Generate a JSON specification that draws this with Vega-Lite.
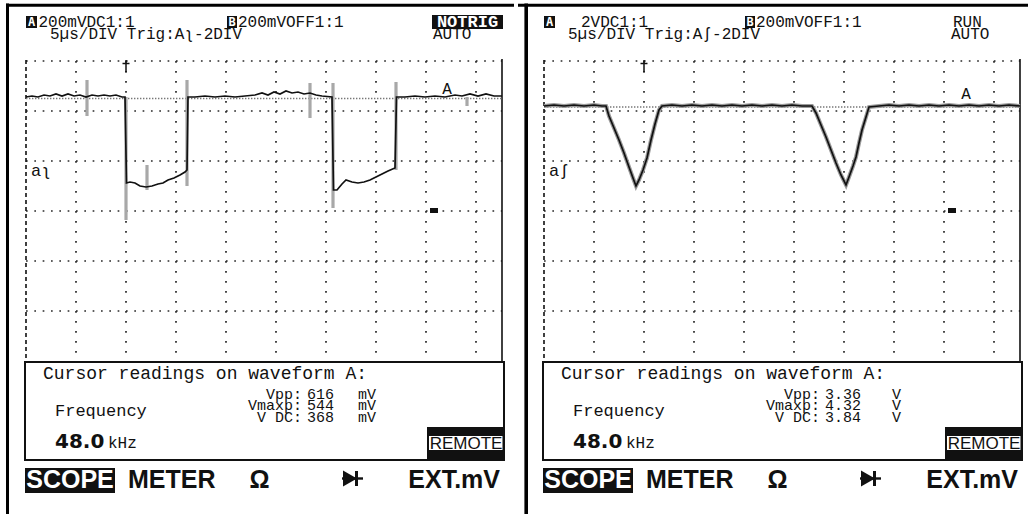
{
  "$schema": "https://vega.github.io/schema/vega-lite/v6.json",
  "background": "white",
  "padding": 0,
  "spacing": 0,
  "config": {
    "axis": {"disable": true},
    "view": {"stroke": null},
    "text": {"font": "Liberation Mono", "fontSize": 16, "fill": "#111"}
  },
  "datasets": {
    "tickTimes": [{"t_us": -5}, {"t_us": 0}, {"t_us": 5}, {"t_us": 10}, {"t_us": 15}, {"t_us": 20}, {"t_us": 25}, {"t_us": 30}, {"t_us": 35}],
    "tickLevels": [{"div": 2}, {"div": 1}, {"div": 0}, {"div": -1}, {"div": -2}, {"div": -3}],
    "traceA_200mV": [
      {"t_us": -10.0, "div": 1.28}, {"t_us": -9.4, "div": 1.30}, {"t_us": -8.8, "div": 1.28}, {"t_us": -8.2, "div": 1.32},
      {"t_us": -7.6, "div": 1.30}, {"t_us": -7.0, "div": 1.34}, {"t_us": -6.4, "div": 1.30}, {"t_us": -5.8, "div": 1.34},
      {"t_us": -5.2, "div": 1.30}, {"t_us": -4.6, "div": 1.32}, {"t_us": -4.0, "div": 1.28}, {"t_us": -3.4, "div": 1.32},
      {"t_us": -2.8, "div": 1.30}, {"t_us": -2.2, "div": 1.32}, {"t_us": -1.6, "div": 1.30}, {"t_us": -1.0, "div": 1.32},
      {"t_us": -0.4, "div": 1.28}, {"t_us": -0.1, "div": 1.28}, {"t_us": 0.05, "div": -0.44}, {"t_us": 0.4, "div": -0.42},
      {"t_us": 0.9, "div": -0.44}, {"t_us": 1.4, "div": -0.50}, {"t_us": 2.0, "div": -0.52}, {"t_us": 2.6, "div": -0.50},
      {"t_us": 3.2, "div": -0.46}, {"t_us": 3.7, "div": -0.44}, {"t_us": 4.2, "div": -0.38}, {"t_us": 4.8, "div": -0.34},
      {"t_us": 5.4, "div": -0.28}, {"t_us": 5.9, "div": -0.22}, {"t_us": 6.1, "div": -0.18}, {"t_us": 6.2, "div": 1.28},
      {"t_us": 6.9, "div": 1.28}, {"t_us": 7.9, "div": 1.30}, {"t_us": 8.9, "div": 1.28}, {"t_us": 9.9, "div": 1.30},
      {"t_us": 10.9, "div": 1.28}, {"t_us": 11.9, "div": 1.30}, {"t_us": 12.9, "div": 1.32}, {"t_us": 13.6, "div": 1.36},
      {"t_us": 14.2, "div": 1.32}, {"t_us": 14.8, "div": 1.38}, {"t_us": 15.4, "div": 1.34}, {"t_us": 16.0, "div": 1.40},
      {"t_us": 16.6, "div": 1.36}, {"t_us": 17.2, "div": 1.38}, {"t_us": 17.8, "div": 1.34}, {"t_us": 18.4, "div": 1.36},
      {"t_us": 19.0, "div": 1.32}, {"t_us": 19.6, "div": 1.30}, {"t_us": 20.6, "div": 1.28}, {"t_us": 20.75, "div": -0.58},
      {"t_us": 21.1, "div": -0.58}, {"t_us": 21.6, "div": -0.46}, {"t_us": 22.0, "div": -0.38}, {"t_us": 22.6, "div": -0.42},
      {"t_us": 23.2, "div": -0.44}, {"t_us": 23.8, "div": -0.42}, {"t_us": 24.4, "div": -0.38}, {"t_us": 25.0, "div": -0.32},
      {"t_us": 25.6, "div": -0.26}, {"t_us": 26.2, "div": -0.20}, {"t_us": 26.9, "div": -0.14}, {"t_us": 27.05, "div": 1.28},
      {"t_us": 27.9, "div": 1.28}, {"t_us": 28.9, "div": 1.30}, {"t_us": 29.9, "div": 1.28}, {"t_us": 30.9, "div": 1.30},
      {"t_us": 31.9, "div": 1.28}, {"t_us": 32.9, "div": 1.32}, {"t_us": 33.6, "div": 1.30}, {"t_us": 34.4, "div": 1.34},
      {"t_us": 35.2, "div": 1.30}, {"t_us": 36.0, "div": 1.34}, {"t_us": 36.8, "div": 1.30}, {"t_us": 37.6, "div": 1.30}
    ],
    "peaks_200mV": [
      {"t_us": -3.9, "lo": 0.90, "hi": 1.62},
      {"t_us": 0.0, "lo": -1.18, "hi": 1.28},
      {"t_us": 2.1, "lo": -0.58, "hi": -0.08},
      {"t_us": 6.1, "lo": -0.50, "hi": 1.62},
      {"t_us": 18.4, "lo": 0.86, "hi": 1.56},
      {"t_us": 20.7, "lo": -0.94, "hi": 1.56},
      {"t_us": 27.0, "lo": -0.18, "hi": 1.58},
      {"t_us": 34.1, "lo": 1.10, "hi": 1.28}
    ],
    "traceA_2V": [
      {"t_us": -10.0, "div": 1.10}, {"t_us": -9.0, "div": 1.12}, {"t_us": -8.0, "div": 1.10}, {"t_us": -7.0, "div": 1.12},
      {"t_us": -6.0, "div": 1.10}, {"t_us": -5.0, "div": 1.12}, {"t_us": -4.2, "div": 1.10}, {"t_us": -3.8, "div": 1.10},
      {"t_us": -3.5, "div": 0.90}, {"t_us": -3.0, "div": 0.66}, {"t_us": -2.5, "div": 0.42}, {"t_us": -2.0, "div": 0.16},
      {"t_us": -1.5, "div": -0.12}, {"t_us": -1.1, "div": -0.34}, {"t_us": -0.8, "div": -0.50}, {"t_us": -0.5, "div": -0.38},
      {"t_us": -0.1, "div": -0.18}, {"t_us": 0.3, "div": 0.06}, {"t_us": 0.7, "div": 0.42}, {"t_us": 1.1, "div": 0.74},
      {"t_us": 1.5, "div": 1.02}, {"t_us": 1.8, "div": 1.10}, {"t_us": 2.8, "div": 1.12}, {"t_us": 3.8, "div": 1.10},
      {"t_us": 4.8, "div": 1.12}, {"t_us": 5.8, "div": 1.10}, {"t_us": 6.8, "div": 1.12}, {"t_us": 7.8, "div": 1.10},
      {"t_us": 8.8, "div": 1.12}, {"t_us": 9.8, "div": 1.10}, {"t_us": 10.8, "div": 1.12}, {"t_us": 11.8, "div": 1.10},
      {"t_us": 12.8, "div": 1.12}, {"t_us": 13.8, "div": 1.10}, {"t_us": 14.8, "div": 1.12}, {"t_us": 15.8, "div": 1.10},
      {"t_us": 16.8, "div": 1.10}, {"t_us": 17.2, "div": 0.96}, {"t_us": 17.7, "div": 0.72}, {"t_us": 18.2, "div": 0.48},
      {"t_us": 18.7, "div": 0.22}, {"t_us": 19.2, "div": -0.04}, {"t_us": 19.7, "div": -0.28}, {"t_us": 20.2, "div": -0.48},
      {"t_us": 20.5, "div": -0.32}, {"t_us": 20.9, "div": -0.10}, {"t_us": 21.2, "div": 0.08}, {"t_us": 21.5, "div": 0.36},
      {"t_us": 21.8, "div": 0.62}, {"t_us": 22.2, "div": 0.88}, {"t_us": 22.5, "div": 1.08}, {"t_us": 23.5, "div": 1.10},
      {"t_us": 24.5, "div": 1.12}, {"t_us": 25.5, "div": 1.10}, {"t_us": 26.5, "div": 1.12}, {"t_us": 27.5, "div": 1.10},
      {"t_us": 28.5, "div": 1.12}, {"t_us": 29.5, "div": 1.10}, {"t_us": 30.5, "div": 1.12}, {"t_us": 31.5, "div": 1.10},
      {"t_us": 32.5, "div": 1.12}, {"t_us": 33.5, "div": 1.10}, {"t_us": 34.5, "div": 1.12}, {"t_us": 35.5, "div": 1.10},
      {"t_us": 36.5, "div": 1.12}, {"t_us": 37.6, "div": 1.10}
    ]
  },
  "hconcat": [
    {
      "width": 514,
      "height": 514,
      "data": {"values": [{}]},
      "layer": [
        {"data": {"name": "tickTimes"}, "mark": {"type": "rule", "color": "#2a2a2a", "strokeWidth": 1.7, "strokeDash": [1.7, 8.3]},
         "encoding": {"x": {"field": "t_us", "type": "quantitative", "scale": {"domain": [-12.6, 38.8], "nice": false, "zero": false}},
                      "y": {"datum": 2, "type": "quantitative", "scale": {"domain": [-7.06, 3.22], "nice": false, "zero": false}},
                      "y2": {"datum": -4}}},
        {"data": {"name": "tickLevels"}, "mark": {"type": "rule", "color": "#2a2a2a", "strokeWidth": 1.7, "strokeDash": [1.7, 6.63]},
         "encoding": {"y": {"field": "div", "type": "quantitative"}, "x": {"datum": -10, "type": "quantitative"}, "x2": {"datum": 37.6}}},
        {"mark": {"type": "rule", "color": "#111", "strokeWidth": 1.6, "strokeDash": [4, 3]},
         "encoding": {"x": {"datum": -10, "type": "quantitative"}, "y": {"datum": 2.02, "type": "quantitative"}, "y2": {"datum": -4}}},
        {"mark": {"type": "rule", "color": "#111", "strokeWidth": 1.6},
         "encoding": {"x": {"datum": 37.6, "type": "quantitative"}, "y": {"datum": 2.04, "type": "quantitative"}, "y2": {"datum": -4}}},
        {"mark": {"type": "rule", "color": "#777", "strokeWidth": 1.4, "strokeDash": [1.4, 1.6]},
         "encoding": {"y": {"datum": 1.25, "type": "quantitative"}, "x": {"datum": -10, "type": "quantitative"}, "x2": {"datum": 37.6}}},
        {"data": {"name": "peaks_200mV"}, "mark": {"type": "rule", "color": "#a8a8a8", "strokeWidth": 3.2},
         "encoding": {"x": {"field": "t_us", "type": "quantitative"}, "y": {"field": "hi", "type": "quantitative"}, "y2": {"field": "lo"}}},
        {"data": {"name": "traceA_200mV"}, "mark": {"type": "line", "color": "#111", "strokeWidth": 1.7},
         "encoding": {"x": {"field": "t_us", "type": "quantitative"}, "y": {"field": "div", "type": "quantitative"}}},
        {"mark": {"type": "rule", "color": "#111", "strokeWidth": 1.5},
         "encoding": {"x": {"datum": 0, "type": "quantitative"}, "y": {"datum": 2.02, "type": "quantitative"}, "y2": {"datum": 1.78}}},
        {"mark": {"type": "rule", "color": "#111", "strokeWidth": 1.5},
         "encoding": {"y": {"datum": 1.95, "type": "quantitative"}, "x": {"datum": -0.35, "type": "quantitative"}, "x2": {"datum": 0.35}}},
        {"mark": {"type": "text", "text": "A", "align": "center", "baseline": "middle", "fontSize": 16},
         "encoding": {"x": {"datum": 32.1, "type": "quantitative"}, "y": {"datum": 1.44, "type": "quantitative"}}},
        {"mark": {"type": "text", "text": "aʅ", "align": "left", "baseline": "middle", "fontSize": 17},
         "encoding": {"x": {"datum": -9.5, "type": "quantitative"}, "y": {"datum": -0.2, "type": "quantitative"}}},
        {"mark": {"type": "rect", "color": "#111"},
         "encoding": {"x": {"datum": 30.4, "type": "quantitative"}, "x2": {"datum": 31.2}, "y": {"datum": -0.94, "type": "quantitative"}, "y2": {"datum": -1.04}}},
        {"mark": {"type": "rect", "color": "#111"},
         "encoding": {"x": {"datum": -10, "type": "quantitative"}, "x2": {"datum": -8.9}, "y": {"datum": 2.9, "type": "quantitative"}, "y2": {"datum": 2.66}}},
        {"mark": {"type": "text", "text": "A", "align": "center", "baseline": "middle", "fill": "white", "fontSize": 12, "fontWeight": "bold", "font": "DejaVu Sans Mono"},
         "encoding": {"x": {"datum": -9.45, "type": "quantitative"}, "y": {"datum": 2.78, "type": "quantitative"}}},
        {"mark": {"type": "text", "text": "200mVDC1:1", "align": "left", "baseline": "alphabetic"},
         "encoding": {"x": {"datum": -8.75, "type": "quantitative"}, "y": {"datum": 2.69, "type": "quantitative"}}},
        {"mark": {"type": "rect", "color": "#111"},
         "encoding": {"x": {"datum": 10.1, "type": "quantitative"}, "x2": {"datum": 11.1}, "y": {"datum": 2.9, "type": "quantitative"}, "y2": {"datum": 2.66}}},
        {"mark": {"type": "text", "text": "B", "align": "center", "baseline": "middle", "fill": "white", "fontSize": 12, "fontWeight": "bold", "font": "DejaVu Sans Mono"},
         "encoding": {"x": {"datum": 10.6, "type": "quantitative"}, "y": {"datum": 2.78, "type": "quantitative"}}},
        {"mark": {"type": "text", "text": "200mVOFF1:1", "align": "left", "baseline": "alphabetic"},
         "encoding": {"x": {"datum": 11.2, "type": "quantitative"}, "y": {"datum": 2.69, "type": "quantitative"}}},
        {"mark": {"type": "rect", "color": "#111"},
         "encoding": {"x": {"datum": 30.6, "type": "quantitative"}, "x2": {"datum": 37.7}, "y": {"datum": 2.92, "type": "quantitative"}, "y2": {"datum": 2.64}}},
        {"mark": {"type": "text", "text": "NOTRIG", "align": "center", "baseline": "alphabetic", "fill": "white", "fontWeight": "bold", "fontSize": 17},
         "encoding": {"x": {"datum": 34.15, "type": "quantitative"}, "y": {"datum": 2.69, "type": "quantitative"}}},
        {"mark": {"type": "text", "text": "5µs/DIV Trig:Aʅ-2DIV", "align": "left", "baseline": "alphabetic"},
         "encoding": {"x": {"datum": -7.6, "type": "quantitative"}, "y": {"datum": 2.45, "type": "quantitative"}}},
        {"mark": {"type": "text", "text": "AUTO", "align": "left", "baseline": "alphabetic"},
         "encoding": {"x": {"datum": 30.7, "type": "quantitative"}, "y": {"datum": 2.45, "type": "quantitative"}}},
        {"mark": {"type": "rule", "color": "#000", "strokeWidth": 3},
         "encoding": {"y": {"datum": 3.116, "type": "quantitative"}, "x": {"datum": -12.0, "type": "quantitative"}, "x2": {"datum": 38.8}}},
        {"mark": {"type": "rule", "color": "#000", "strokeWidth": 3},
         "encoding": {"x": {"datum": -11.85, "type": "quantitative"}, "y": {"datum": 3.15, "type": "quantitative"}, "y2": {"datum": -7.06}}},
        {"mark": {"type": "rect", "fill": "white", "stroke": "#111", "strokeWidth": 2},
         "encoding": {"x": {"datum": -10.1, "type": "quantitative"}, "x2": {"datum": 37.8}, "y": {"datum": -4.02, "type": "quantitative"}, "y2": {"datum": -5.98}}},
        {"mark": {"type": "text", "text": "Cursor readings on waveform A:", "align": "left", "baseline": "alphabetic", "fontSize": 18},
         "encoding": {"x": {"datum": -8.3, "type": "quantitative"}, "y": {"datum": -4.36, "type": "quantitative"}}},
        {"mark": {"type": "text", "text": ["Vpp:", "Vmaxp:", "V DC:"], "align": "right", "baseline": "alphabetic", "fontSize": 15, "lineHeight": 11.7},
         "encoding": {"x": {"datum": 17.6, "type": "quantitative"}, "y": {"datum": -4.75, "type": "quantitative"}}},
        {"mark": {"type": "text", "text": ["616", "544", "368"], "align": "left", "baseline": "alphabetic", "fontSize": 15, "lineHeight": 11.7},
         "encoding": {"x": {"datum": 18.1, "type": "quantitative"}, "y": {"datum": -4.75, "type": "quantitative"}}},
        {"mark": {"type": "text", "text": ["mV", "mV", "mV"], "align": "left", "baseline": "alphabetic", "fontSize": 15, "lineHeight": 11.7},
         "encoding": {"x": {"datum": 23.2, "type": "quantitative"}, "y": {"datum": -4.75, "type": "quantitative"}}},
        {"mark": {"type": "text", "text": "Frequency", "align": "left", "baseline": "alphabetic", "fontSize": 17},
         "encoding": {"x": {"datum": -7.1, "type": "quantitative"}, "y": {"datum": -5.1, "type": "quantitative"}}},
        {"mark": {"type": "text", "text": "48.0", "align": "left", "baseline": "alphabetic", "font": "DejaVu Sans", "fontSize": 20, "fontWeight": "bold"},
         "encoding": {"x": {"datum": -7.1, "type": "quantitative"}, "y": {"datum": -5.74, "type": "quantitative"}}},
        {"mark": {"type": "text", "text": "kHz", "align": "left", "baseline": "alphabetic", "fontSize": 16},
         "encoding": {"x": {"datum": -1.8, "type": "quantitative"}, "y": {"datum": -5.74, "type": "quantitative"}}},
        {"mark": {"type": "rect", "color": "#111"},
         "encoding": {"x": {"datum": 30.1, "type": "quantitative"}, "x2": {"datum": 37.8}, "y": {"datum": -5.32, "type": "quantitative"}, "y2": {"datum": -5.98}}},
        {"mark": {"type": "rect", "color": "white"},
         "encoding": {"x": {"datum": 30.3, "type": "quantitative"}, "x2": {"datum": 37.65}, "y": {"datum": -5.5, "type": "quantitative"}, "y2": {"datum": -5.78}}},
        {"mark": {"type": "text", "text": "REMOTE", "align": "center", "baseline": "alphabetic", "font": "Liberation Sans", "fontSize": 17},
         "encoding": {"x": {"datum": 34.0, "type": "quantitative"}, "y": {"datum": -5.76, "type": "quantitative"}}},
        {"mark": {"type": "rect", "color": "#111"},
         "encoding": {"x": {"datum": -10.1, "type": "quantitative"}, "x2": {"datum": -1.1}, "y": {"datum": -6.14, "type": "quantitative"}, "y2": {"datum": -6.64}}},
        {"mark": {"type": "text", "text": "SCOPE", "align": "center", "baseline": "alphabetic", "fill": "white", "font": "Liberation Sans", "fontSize": 25, "fontWeight": "bold"},
         "encoding": {"x": {"datum": -5.6, "type": "quantitative"}, "y": {"datum": -6.54, "type": "quantitative"}}},
        {"mark": {"type": "text", "text": "METER", "align": "left", "baseline": "alphabetic", "font": "Liberation Sans", "fontSize": 25, "fontWeight": "bold"},
         "encoding": {"x": {"datum": 0.2, "type": "quantitative"}, "y": {"datum": -6.54, "type": "quantitative"}}},
        {"mark": {"type": "text", "text": "Ω", "align": "center", "baseline": "alphabetic", "font": "Liberation Sans", "fontSize": 25, "fontWeight": "bold"},
         "encoding": {"x": {"datum": 13.35, "type": "quantitative"}, "y": {"datum": -6.54, "type": "quantitative"}}},
        {"mark": {"type": "rule", "color": "#111", "strokeWidth": 2.4},
         "encoding": {"y": {"datum": -6.35, "type": "quantitative"}, "x": {"datum": 21.6, "type": "quantitative"}, "x2": {"datum": 23.7}}},
        {"mark": {"type": "point", "shape": "triangle-right", "filled": true, "color": "#111", "opacity": 1, "size": 260},
         "encoding": {"x": {"datum": 22.4, "type": "quantitative"}, "y": {"datum": -6.35, "type": "quantitative"}}},
        {"mark": {"type": "rule", "color": "#111", "strokeWidth": 3},
         "encoding": {"x": {"datum": 23.05, "type": "quantitative"}, "y": {"datum": -6.2, "type": "quantitative"}, "y2": {"datum": -6.5}}},
        {"mark": {"type": "text", "text": "EXT.mV", "align": "right", "baseline": "alphabetic", "font": "Liberation Sans", "fontSize": 25, "fontWeight": "bold"},
         "encoding": {"x": {"datum": 37.4, "type": "quantitative"}, "y": {"datum": -6.54, "type": "quantitative"}}}
      ]
    },
    {
      "width": 514,
      "height": 514,
      "data": {"values": [{}]},
      "layer": [
        {"data": {"name": "tickTimes"}, "mark": {"type": "rule", "color": "#2a2a2a", "strokeWidth": 1.7, "strokeDash": [1.7, 8.3]},
         "encoding": {"x": {"field": "t_us", "type": "quantitative", "scale": {"domain": [-12.6, 38.8], "nice": false, "zero": false}},
                      "y": {"datum": 2, "type": "quantitative", "scale": {"domain": [-7.06, 3.22], "nice": false, "zero": false}},
                      "y2": {"datum": -4}}},
        {"data": {"name": "tickLevels"}, "mark": {"type": "rule", "color": "#2a2a2a", "strokeWidth": 1.7, "strokeDash": [1.7, 6.63]},
         "encoding": {"y": {"field": "div", "type": "quantitative"}, "x": {"datum": -10, "type": "quantitative"}, "x2": {"datum": 37.6}}},
        {"mark": {"type": "rule", "color": "#111", "strokeWidth": 1.6, "strokeDash": [4, 3]},
         "encoding": {"x": {"datum": -10, "type": "quantitative"}, "y": {"datum": 2.02, "type": "quantitative"}, "y2": {"datum": -4}}},
        {"mark": {"type": "rule", "color": "#111", "strokeWidth": 1.6},
         "encoding": {"x": {"datum": 37.6, "type": "quantitative"}, "y": {"datum": 2.04, "type": "quantitative"}, "y2": {"datum": -4}}},
        {"mark": {"type": "rule", "color": "#777", "strokeWidth": 1.4, "strokeDash": [1.4, 1.6]},
         "encoding": {"y": {"datum": 1.08, "type": "quantitative"}, "x": {"datum": -10, "type": "quantitative"}, "x2": {"datum": 37.6}}},
        {"data": {"name": "traceA_2V"}, "mark": {"type": "line", "color": "#9a9a9a", "strokeWidth": 4},
         "encoding": {"x": {"field": "t_us", "type": "quantitative"}, "y": {"field": "div", "type": "quantitative"}}},
        {"data": {"name": "traceA_2V"}, "mark": {"type": "line", "color": "#111", "strokeWidth": 1.7},
         "encoding": {"x": {"field": "t_us", "type": "quantitative"}, "y": {"field": "div", "type": "quantitative"}}},
        {"mark": {"type": "rule", "color": "#111", "strokeWidth": 1.5},
         "encoding": {"x": {"datum": 0, "type": "quantitative"}, "y": {"datum": 2.02, "type": "quantitative"}, "y2": {"datum": 1.78}}},
        {"mark": {"type": "rule", "color": "#111", "strokeWidth": 1.5},
         "encoding": {"y": {"datum": 1.95, "type": "quantitative"}, "x": {"datum": -0.35, "type": "quantitative"}, "x2": {"datum": 0.35}}},
        {"mark": {"type": "text", "text": "A", "align": "center", "baseline": "middle", "fontSize": 16},
         "encoding": {"x": {"datum": 32.2, "type": "quantitative"}, "y": {"datum": 1.34, "type": "quantitative"}}},
        {"mark": {"type": "text", "text": "aʃ", "align": "left", "baseline": "middle", "fontSize": 17},
         "encoding": {"x": {"datum": -9.5, "type": "quantitative"}, "y": {"datum": -0.2, "type": "quantitative"}}},
        {"mark": {"type": "rect", "color": "#111"},
         "encoding": {"x": {"datum": 30.4, "type": "quantitative"}, "x2": {"datum": 31.2}, "y": {"datum": -0.94, "type": "quantitative"}, "y2": {"datum": -1.04}}},
        {"mark": {"type": "rect", "color": "#111"},
         "encoding": {"x": {"datum": -10, "type": "quantitative"}, "x2": {"datum": -8.9}, "y": {"datum": 2.9, "type": "quantitative"}, "y2": {"datum": 2.66}}},
        {"mark": {"type": "text", "text": "A", "align": "center", "baseline": "middle", "fill": "white", "fontSize": 12, "fontWeight": "bold", "font": "DejaVu Sans Mono"},
         "encoding": {"x": {"datum": -9.45, "type": "quantitative"}, "y": {"datum": 2.78, "type": "quantitative"}}},
        {"mark": {"type": "text", "text": "2VDC1:1", "align": "left", "baseline": "alphabetic"},
         "encoding": {"x": {"datum": -6.3, "type": "quantitative"}, "y": {"datum": 2.69, "type": "quantitative"}}},
        {"mark": {"type": "rect", "color": "#111"},
         "encoding": {"x": {"datum": 10.1, "type": "quantitative"}, "x2": {"datum": 11.1}, "y": {"datum": 2.9, "type": "quantitative"}, "y2": {"datum": 2.66}}},
        {"mark": {"type": "text", "text": "B", "align": "center", "baseline": "middle", "fill": "white", "fontSize": 12, "fontWeight": "bold", "font": "DejaVu Sans Mono"},
         "encoding": {"x": {"datum": 10.6, "type": "quantitative"}, "y": {"datum": 2.78, "type": "quantitative"}}},
        {"mark": {"type": "text", "text": "200mVOFF1:1", "align": "left", "baseline": "alphabetic"},
         "encoding": {"x": {"datum": 11.2, "type": "quantitative"}, "y": {"datum": 2.69, "type": "quantitative"}}},
        {"mark": {"type": "text", "text": "RUN", "align": "left", "baseline": "alphabetic"},
         "encoding": {"x": {"datum": 30.9, "type": "quantitative"}, "y": {"datum": 2.69, "type": "quantitative"}}},
        {"mark": {"type": "text", "text": "5µs/DIV Trig:Aʃ-2DIV", "align": "left", "baseline": "alphabetic"},
         "encoding": {"x": {"datum": -7.6, "type": "quantitative"}, "y": {"datum": 2.45, "type": "quantitative"}}},
        {"mark": {"type": "text", "text": "AUTO", "align": "left", "baseline": "alphabetic"},
         "encoding": {"x": {"datum": 30.7, "type": "quantitative"}, "y": {"datum": 2.45, "type": "quantitative"}}},
        {"mark": {"type": "rule", "color": "#000", "strokeWidth": 3},
         "encoding": {"y": {"datum": 3.116, "type": "quantitative"}, "x": {"datum": -12.6, "type": "quantitative"}, "x2": {"datum": 38.8}}},
        {"mark": {"type": "rule", "color": "#000", "strokeWidth": 3.6},
         "encoding": {"x": {"datum": -11.78, "type": "quantitative"}, "y": {"datum": 3.15, "type": "quantitative"}, "y2": {"datum": -7.06}}},
        {"mark": {"type": "rect", "fill": "white", "stroke": "#111", "strokeWidth": 2},
         "encoding": {"x": {"datum": -10.1, "type": "quantitative"}, "x2": {"datum": 37.8}, "y": {"datum": -4.02, "type": "quantitative"}, "y2": {"datum": -5.98}}},
        {"mark": {"type": "text", "text": "Cursor readings on waveform A:", "align": "left", "baseline": "alphabetic", "fontSize": 18},
         "encoding": {"x": {"datum": -8.3, "type": "quantitative"}, "y": {"datum": -4.36, "type": "quantitative"}}},
        {"mark": {"type": "text", "text": ["Vpp:", "Vmaxp:", "V DC:"], "align": "right", "baseline": "alphabetic", "fontSize": 15, "lineHeight": 11.7},
         "encoding": {"x": {"datum": 17.6, "type": "quantitative"}, "y": {"datum": -4.75, "type": "quantitative"}}},
        {"mark": {"type": "text", "text": ["3.36", "4.32", "3.84"], "align": "left", "baseline": "alphabetic", "fontSize": 15, "lineHeight": 11.7},
         "encoding": {"x": {"datum": 18.1, "type": "quantitative"}, "y": {"datum": -4.75, "type": "quantitative"}}},
        {"mark": {"type": "text", "text": ["V", "V", "V"], "align": "left", "baseline": "alphabetic", "fontSize": 15, "lineHeight": 11.7},
         "encoding": {"x": {"datum": 24.8, "type": "quantitative"}, "y": {"datum": -4.75, "type": "quantitative"}}},
        {"mark": {"type": "text", "text": "Frequency", "align": "left", "baseline": "alphabetic", "fontSize": 17},
         "encoding": {"x": {"datum": -7.1, "type": "quantitative"}, "y": {"datum": -5.1, "type": "quantitative"}}},
        {"mark": {"type": "text", "text": "48.0", "align": "left", "baseline": "alphabetic", "font": "DejaVu Sans", "fontSize": 20, "fontWeight": "bold"},
         "encoding": {"x": {"datum": -7.1, "type": "quantitative"}, "y": {"datum": -5.74, "type": "quantitative"}}},
        {"mark": {"type": "text", "text": "kHz", "align": "left", "baseline": "alphabetic", "fontSize": 16},
         "encoding": {"x": {"datum": -1.8, "type": "quantitative"}, "y": {"datum": -5.74, "type": "quantitative"}}},
        {"mark": {"type": "rect", "color": "#111"},
         "encoding": {"x": {"datum": 30.1, "type": "quantitative"}, "x2": {"datum": 37.8}, "y": {"datum": -5.32, "type": "quantitative"}, "y2": {"datum": -5.98}}},
        {"mark": {"type": "rect", "color": "white"},
         "encoding": {"x": {"datum": 30.3, "type": "quantitative"}, "x2": {"datum": 37.65}, "y": {"datum": -5.5, "type": "quantitative"}, "y2": {"datum": -5.78}}},
        {"mark": {"type": "text", "text": "REMOTE", "align": "center", "baseline": "alphabetic", "font": "Liberation Sans", "fontSize": 17},
         "encoding": {"x": {"datum": 34.0, "type": "quantitative"}, "y": {"datum": -5.76, "type": "quantitative"}}},
        {"mark": {"type": "rect", "color": "#111"},
         "encoding": {"x": {"datum": -10.1, "type": "quantitative"}, "x2": {"datum": -1.1}, "y": {"datum": -6.14, "type": "quantitative"}, "y2": {"datum": -6.64}}},
        {"mark": {"type": "text", "text": "SCOPE", "align": "center", "baseline": "alphabetic", "fill": "white", "font": "Liberation Sans", "fontSize": 25, "fontWeight": "bold"},
         "encoding": {"x": {"datum": -5.6, "type": "quantitative"}, "y": {"datum": -6.54, "type": "quantitative"}}},
        {"mark": {"type": "text", "text": "METER", "align": "left", "baseline": "alphabetic", "font": "Liberation Sans", "fontSize": 25, "fontWeight": "bold"},
         "encoding": {"x": {"datum": 0.2, "type": "quantitative"}, "y": {"datum": -6.54, "type": "quantitative"}}},
        {"mark": {"type": "text", "text": "Ω", "align": "center", "baseline": "alphabetic", "font": "Liberation Sans", "fontSize": 25, "fontWeight": "bold"},
         "encoding": {"x": {"datum": 13.35, "type": "quantitative"}, "y": {"datum": -6.54, "type": "quantitative"}}},
        {"mark": {"type": "rule", "color": "#111", "strokeWidth": 2.4},
         "encoding": {"y": {"datum": -6.35, "type": "quantitative"}, "x": {"datum": 21.6, "type": "quantitative"}, "x2": {"datum": 23.7}}},
        {"mark": {"type": "point", "shape": "triangle-right", "filled": true, "color": "#111", "opacity": 1, "size": 260},
         "encoding": {"x": {"datum": 22.4, "type": "quantitative"}, "y": {"datum": -6.35, "type": "quantitative"}}},
        {"mark": {"type": "rule", "color": "#111", "strokeWidth": 3},
         "encoding": {"x": {"datum": 23.05, "type": "quantitative"}, "y": {"datum": -6.2, "type": "quantitative"}, "y2": {"datum": -6.5}}},
        {"mark": {"type": "text", "text": "EXT.mV", "align": "right", "baseline": "alphabetic", "font": "Liberation Sans", "fontSize": 25, "fontWeight": "bold"},
         "encoding": {"x": {"datum": 37.4, "type": "quantitative"}, "y": {"datum": -6.54, "type": "quantitative"}}}
      ]
    }
  ]
}
